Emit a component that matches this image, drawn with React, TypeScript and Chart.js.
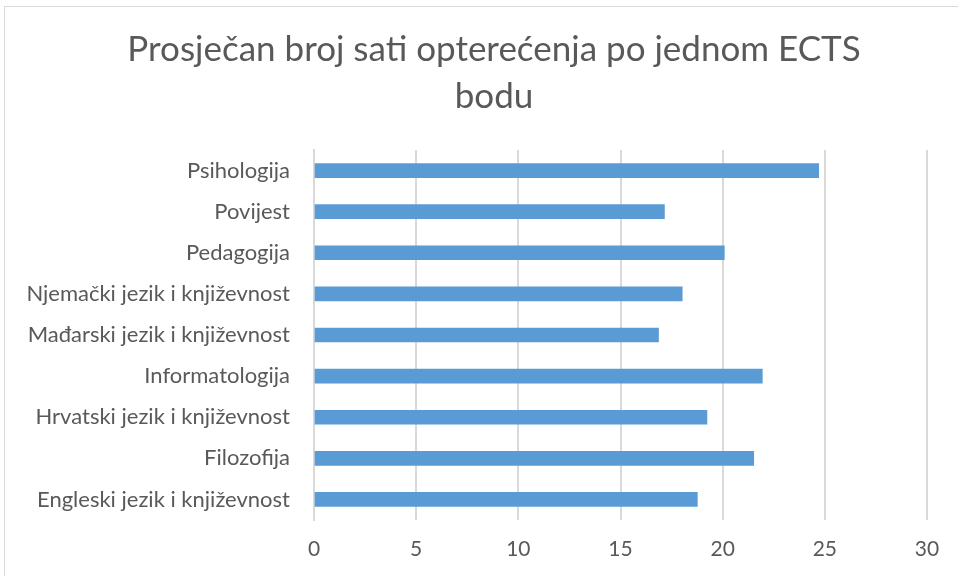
import React, { useEffect, useRef } from "react";
import { Chart, registerables } from "chart.js";

Chart.register(...registerables);

const titleLines = ["Prosječan broj sati opterećenja po jednom ECTS", "bodu"];
const categories = [
  "Psihologija",
  "Povijest",
  "Pedagogija",
  "Njemački jezik i književnost",
  "Mađarski jezik i književnost",
  "Informatologija",
  "Hrvatski jezik i književnost",
  "Filozofija",
  "Engleski jezik i književnost",
];
const values = [24.7, 17.15, 20.08, 18.02, 16.86, 21.94, 19.23, 21.52, 18.76];
const xMin = 0;
const xMax = 30;
const xStep = 5;

const FONT = "Lato, 'Open Sans', sans-serif";
const TEXT = "#595959";
const GRID = "#d9d9d9";
const BAR = "#5b9bd5";

const titlePlugin = {
  id: "excelTitle",
  afterDraw(chart: any) {
    const ctx = chart.ctx;
    ctx.save();
    ctx.font = `normal 35px ${FONT}`;
    ctx.fillStyle = TEXT;
    ctx.textAlign = "center";
    ctx.textBaseline = "middle";
    titleLines.forEach((line, i) => {
      ctx.fillText(line, 494, 50 + i * 46.5);
    });
    ctx.restore();
  },
};

export default function App() {
  const ref = useRef<HTMLCanvasElement | null>(null);

  useEffect(() => {
    if (!ref.current) return;
    const chart = new Chart(ref.current, {
      type: "bar",
      data: {
        labels: categories,
        datasets: [
          {
            data: values,
            backgroundColor: BAR,
            borderWidth: 0,
            barThickness: 14,
          },
        ],
      },
      options: {
        indexAxis: "y",
        animation: false,
        responsive: false,
        maintainAspectRatio: false,
        layout: { padding: { left: 0, right: 31, top: 150, bottom: 0 } },
        plugins: {
          legend: { display: false },
          tooltip: { enabled: false },
          title: { display: false },
        },
        scales: {
          x: {
            min: xMin,
            max: xMax,
            ticks: {
              stepSize: xStep,
              color: TEXT,
              padding: 17,
              font: { family: FONT, size: 21 },
            },
            grid: { color: GRID, lineWidth: 2, drawTicks: false },
            border: { display: false },
            afterFit: (s: any) => {
              s.height = 56;
            },
          },
          y: {
            ticks: {
              color: TEXT,
              padding: 24,
              font: { family: FONT, size: 22 },
            },
            grid: { display: false, drawTicks: false },
            border: { display: true, color: GRID, width: 2 },
            afterFit: (s: any) => {
              s.width = 314;
            },
          },
        },
      },
      plugins: [titlePlugin],
    });
    return () => chart.destroy();
  }, []);

  return (
    <div
      style={{
        position: "fixed",
        left: 0,
        top: 0,
        width: 958,
        height: 576,
        overflow: "hidden",
        background: "#fff",
      }}
    >
      <div
        style={{
          position: "absolute",
          left: 4,
          top: 6,
          width: 1000,
          height: 700,
          border: "1px solid #d9d9d9",
          boxSizing: "border-box",
        }}
      />
      <canvas
        ref={ref}
        width={958}
        height={576}
        style={{ position: "absolute", left: 0, top: 0, width: 958, height: 576 }}
      />
    </div>
  );
}
